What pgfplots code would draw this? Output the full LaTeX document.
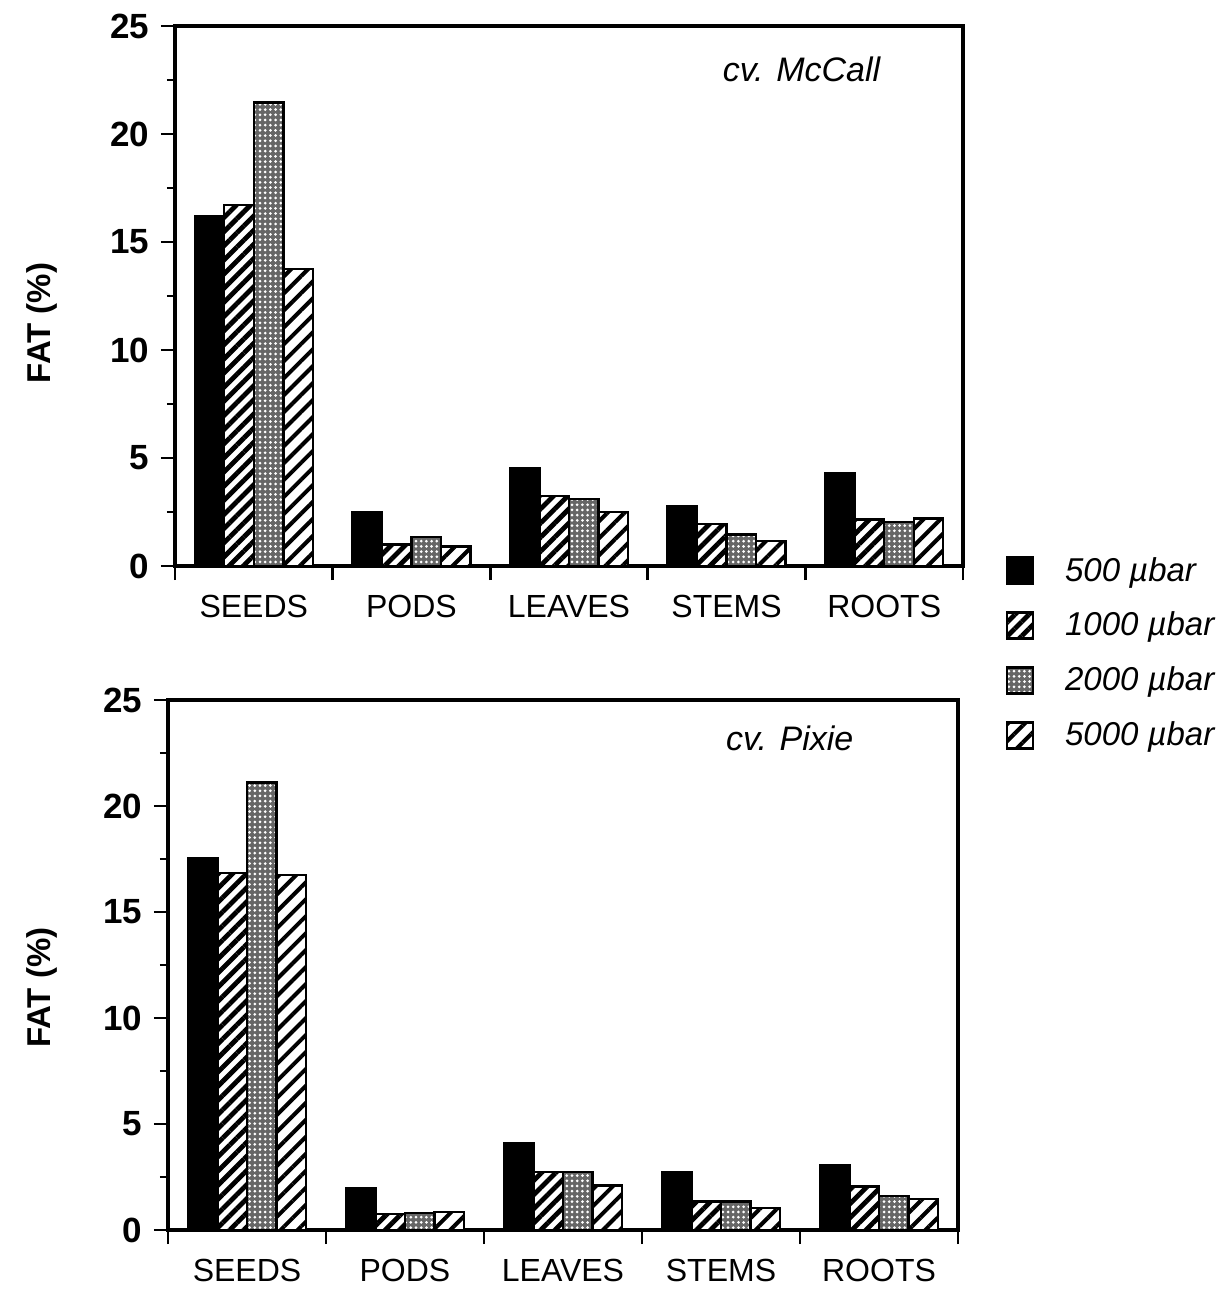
\documentclass[border=0pt]{standalone}
\usepackage{pgfplots}
\pgfplotsset{compat=1.18}
\usepackage{fontspec}
\setmainfont{Liberation Sans}
\usetikzlibrary{patterns,patterns.meta}

\pgfplotsset{
  leg/.style={/pgfplots/legend image code/.code={\draw[##1] (0pt,-6.5pt) rectangle (13pt,6.5pt);}},
  fatax/.style={
    scale only axis, width=394pt, height=270pt, anchor=south west,
    ymin=0, ymax=25, xmin=-0.5, xmax=4.5,
    ytick={0,5,...,25}, minor ytick={2.5,7.5,...,22.5},
    xtick={-0.5,0.5,...,4.5}, x tick label as interval,
    xticklabels={SEEDS,PODS,LEAVES,STEMS,ROOTS},
    tick pos=left, tick align=outside,
    major tick length=7pt, minor tick length=4pt,
    axis line style={line width=1.7pt},
    every tick/.style={line width=1.4pt, black},
    /pgf/number format/assume math mode=true,
    yticklabel style={font=\fontsize{17.5}{20}\selectfont\bfseries, xshift=-2.5pt},
    xticklabel style={font=\fontsize{16}{19}\selectfont, yshift=-4pt},
    ylabel={FAT (\%)},
    ybar, bar width=14.75pt,
  },
  b1/.style={fill=black, draw=black, line width=1.2pt, bar shift=-22.125pt, leg},
  b2/.style={fill=white, draw=black, line width=1.2pt, bar shift=-7.375pt,
     postaction={pattern={Lines[angle=45,distance=5pt,line width=2.4pt]}, pattern color=black}, leg},
  b3/.style={fill=black!60, draw=black, line width=1.2pt, bar shift=7.375pt,
     postaction={pattern={Dots[distance=2.6pt,radius=0.75pt]}, pattern color=white}, leg},
  b4/.style={fill=white, draw=black, line width=1.2pt, bar shift=22.125pt,
     postaction={pattern={Lines[angle=45,distance=6pt,line width=2pt]}, pattern color=black}, leg},
}

\begin{document}
\begin{tikzpicture}
\useasboundingbox (0,0) rectangle (610pt,-645pt);

\begin{axis}[fatax, at={(87.5pt,-283pt)},
  ylabel style={font=\fontsize{16.5}{19}\selectfont\bfseries, at={(axis description cs:-0.169,0.45)}, anchor=center},
  legend style={at={(axis description cs:1.046,0.032)}, anchor=north west, draw=none, fill=none,
     font=\fontsize{16.5}{19}\selectfont\itshape, row sep=10pt,
     /tikz/every odd column/.append style={column sep=13.5pt}},
  legend cell align=left]
\addplot[b1] coordinates {(0,16.2) (1,2.5) (2,4.55) (3,2.75) (4,4.3)};
\addplot[b2] coordinates {(0,16.7) (1,1.0) (2,3.25) (3,1.95) (4,2.15)};
\addplot[b3] coordinates {(0,21.45) (1,1.35) (2,3.1) (3,1.45) (4,2.05)};
\addplot[b4] coordinates {(0,13.75) (1,0.9) (2,2.5) (3,1.15) (4,2.2)};
\addlegendentry{500 µbar}
\addlegendentry{1000 µbar}
\addlegendentry{2000 µbar}
\addlegendentry{5000 µbar}
\node[font=\fontsize{17}{20}\selectfont\itshape] at (rel axis cs:0.795,0.92) {cv. McCall};
\end{axis}

\begin{axis}[fatax, at={(84pt,-615pt)}, height=265pt, width=395pt,
  ylabel style={font=\fontsize{16.5}{19}\selectfont\bfseries, at={(axis description cs:-0.159,0.457)}, anchor=center}]
\addplot[b1] coordinates {(0,17.55) (1,1.97) (2,4.1) (3,2.75) (4,3.05)};
\addplot[b2] coordinates {(0,16.85) (1,0.75) (2,2.75) (3,1.35) (4,2.05)};
\addplot[b3] coordinates {(0,21.1) (1,0.8) (2,2.75) (3,1.35) (4,1.6)};
\addplot[b4] coordinates {(0,16.75) (1,0.85) (2,2.1) (3,1.05) (4,1.45)};
\node[font=\fontsize{17}{20}\selectfont\itshape] at (rel axis cs:0.787,0.928) {cv. Pixie};
\end{axis}
\end{tikzpicture}
\end{document}
